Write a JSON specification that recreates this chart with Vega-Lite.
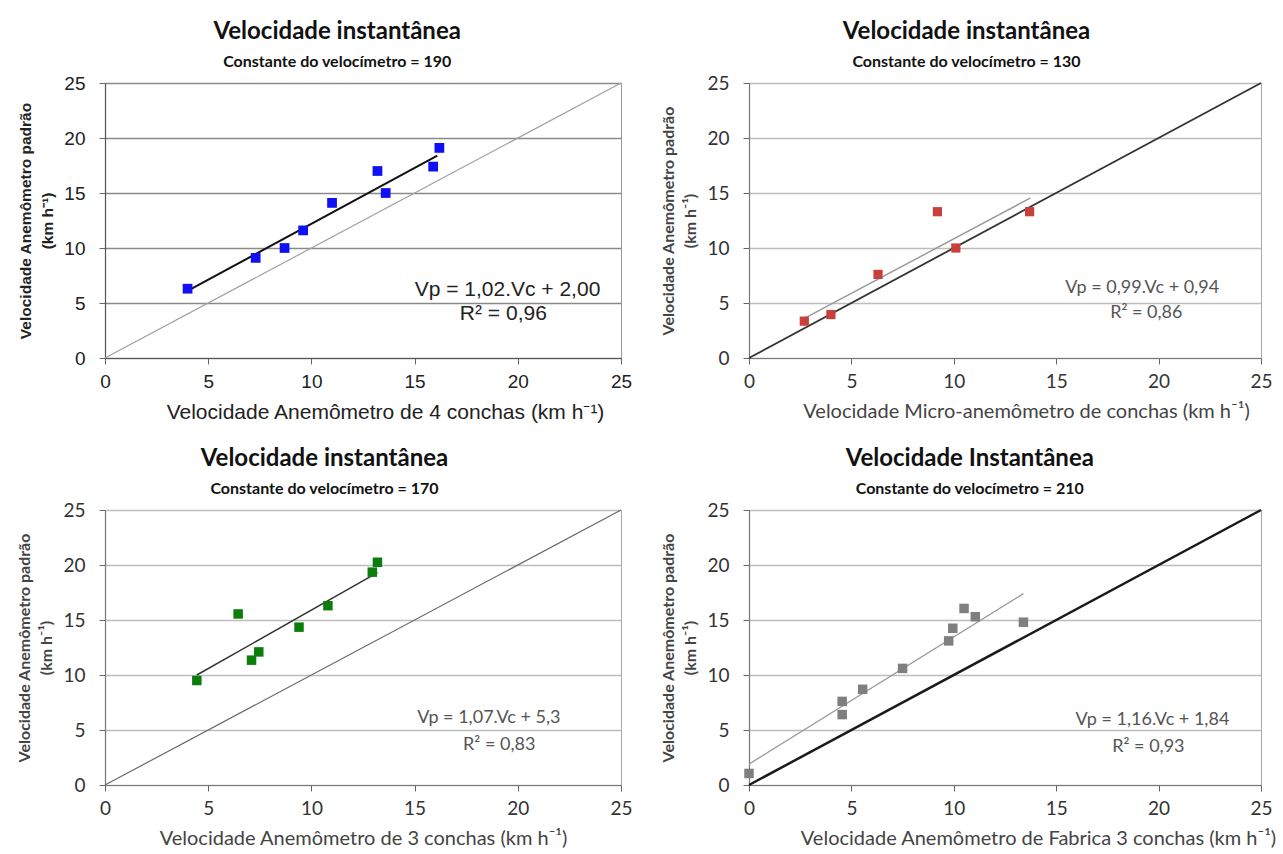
{
  "$schema": "https://vega.github.io/schema/vega-lite/v6.json",
  "background": "white",
  "padding": {"left": 16, "top": 19, "right": 2, "bottom": 0},
  "spacing": 23,
  "datasets": {
    "pts": [
      {"panel": 1, "vc": 4.0, "vp": 6.3}, {"panel": 1, "vc": 7.3, "vp": 9.1}, {"panel": 1, "vc": 8.7, "vp": 10.0},
      {"panel": 1, "vc": 9.6, "vp": 11.6}, {"panel": 1, "vc": 11.0, "vp": 14.1}, {"panel": 1, "vc": 13.2, "vp": 17.0},
      {"panel": 1, "vc": 13.6, "vp": 15.0}, {"panel": 1, "vc": 15.9, "vp": 17.4}, {"panel": 1, "vc": 16.2, "vp": 19.1},
      {"panel": 2, "vc": 2.7, "vp": 3.35}, {"panel": 2, "vc": 4.0, "vp": 3.95}, {"panel": 2, "vc": 6.3, "vp": 7.6},
      {"panel": 2, "vc": 9.2, "vp": 13.3}, {"panel": 2, "vc": 10.1, "vp": 10.0}, {"panel": 2, "vc": 13.7, "vp": 13.3},
      {"panel": 3, "vc": 4.45, "vp": 9.5}, {"panel": 3, "vc": 6.45, "vp": 15.55}, {"panel": 3, "vc": 7.1, "vp": 11.35},
      {"panel": 3, "vc": 7.45, "vp": 12.1}, {"panel": 3, "vc": 9.4, "vp": 14.35}, {"panel": 3, "vc": 10.8, "vp": 16.3},
      {"panel": 3, "vc": 12.95, "vp": 19.35}, {"panel": 3, "vc": 13.2, "vp": 20.25},
      {"panel": 4, "vc": 0.0, "vp": 1.05}, {"panel": 4, "vc": 4.55, "vp": 6.4}, {"panel": 4, "vc": 4.55, "vp": 7.6},
      {"panel": 4, "vc": 5.55, "vp": 8.7}, {"panel": 4, "vc": 7.5, "vp": 10.6}, {"panel": 4, "vc": 9.75, "vp": 13.1},
      {"panel": 4, "vc": 9.95, "vp": 14.25}, {"panel": 4, "vc": 10.5, "vp": 16.05}, {"panel": 4, "vc": 11.05, "vp": 15.3},
      {"panel": 4, "vc": 13.4, "vp": 14.8}
    ],
    "fit": [
      {"panel": 1, "vc": 4.0, "vp": 6.1}, {"panel": 1, "vc": 16.1, "vp": 18.4},
      {"panel": 2, "vc": 2.7, "vp": 3.6}, {"panel": 2, "vc": 13.75, "vp": 14.55},
      {"panel": 3, "vc": 4.45, "vp": 10.0}, {"panel": 3, "vc": 13.2, "vp": 19.3},
      {"panel": 4, "vc": 0.0, "vp": 1.9}, {"panel": 4, "vc": 13.4, "vp": 17.4}
    ],
    "diag": [{"vc": 0, "vp": 0}, {"vc": 25, "vp": 25}]
  },
  "config": {
    "view": {"stroke": "#a8a8a8", "strokeWidth": 1},
    "axis": {"tickColor": "#666", "tickSize": 6, "labelFontSize": 19, "labelColor": "#222", "titleColor": "#222", "gridColor": "#bdbdbd", "gridWidth": 1.5, "domainColor": "#777", "domainWidth": 1.2},
    "axisX": {"grid": false, "labelFlush": false, "labelPadding": 8, "titlePadding": 10, "titleFontWeight": "normal", "titleFontSize": 20},
    "axisY": {"grid": true, "labelPadding": 14, "titleFontWeight": "bold", "titleFontSize": 16, "titlePadding": 8, "titleLineHeight": 22},
    "title": {"fontSize": 24, "font": "Lato", "fontWeight": "bold", "color": "#111", "subtitleFont": "Lato", "subtitleFontWeight": "bold", "subtitleFontSize": 16, "subtitleColor": "#111", "subtitlePadding": 10, "offset": 0, "anchor": "middle", "frame": "bounds"}
  },
  "vconcat": [
    {
      "spacing": 27,
      "hconcat": [
        {
          "width": 516, "height": 275,
          "title": {"text": "Velocidade instantânea", "subtitle": "Constante do velocímetro = 190", "dx": 12},
          "view": {"stroke": "#999"},
          "layer": [
            {
              "encoding": {
                "x": {"field": "vc", "type": "quantitative", "scale": {"domain": [0, 25], "nice": false},
                      "axis": {"values": [0, 5, 10, 15, 20, 25], "title": "Velocidade Anemômetro de 4 conchas (km h⁻¹)", "titleX": 280, "labelFont": "Liberation Sans", "titleFont": "Liberation Sans", "titleFontSize": 21, "domainColor": "#555"}},
                "y": {"field": "vp", "type": "quantitative", "scale": {"domain": [0, 25], "nice": false},
                      "axis": {"values": [0, 5, 10, 15, 20, 25], "title": ["Velocidade Anemômetro padrão", "(km h⁻¹)"], "labelFont": "Liberation Sans", "titleFont": "Liberation Sans", "titleFontSize": 15.5, "gridColor": "#8a8a8a", "domainColor": "#555"}}
              },
              "layer": [
                {"data": {"name": "diag"}, "mark": {"type": "line", "color": "#a0a0a0", "strokeWidth": 1.2}},
                {"data": {"name": "fit"}, "transform": [{"filter": "datum.panel == 1"}], "mark": {"type": "line", "color": "#111", "strokeWidth": 2}},
                {"data": {"name": "pts"}, "transform": [{"filter": "datum.panel == 1"}], "mark": {"type": "point", "shape": "square", "filled": true, "size": 95, "color": "#1010f5", "opacity": 1}}
              ]
            },
            {"data": {"values": [{"label": "Vp = 1,02.Vc + 2,00"}]}, "mark": {"type": "text", "font": "Liberation Sans", "fontSize": 21, "color": "#222"},
             "encoding": {"x": {"datum": 19.5}, "y": {"datum": 6.2}, "text": {"field": "label"}}},
            {"data": {"values": [{"label": "R² = 0,96"}]}, "mark": {"type": "text", "font": "Liberation Sans", "fontSize": 21, "color": "#222"},
             "encoding": {"x": {"datum": 19.3}, "y": {"datum": 4.0}, "text": {"field": "label"}}}
          ]
        },
        {
          "width": 512, "height": 275,
          "title": {"text": "Velocidade instantânea", "subtitle": "Constante do velocímetro = 130"},
          "layer": [
            {
              "encoding": {
                "x": {"field": "vc", "type": "quantitative", "scale": {"domain": [0, 25], "nice": false},
                      "axis": {"values": [0, 5, 10, 15, 20, 25], "title": "Velocidade Micro-anemômetro de  conchas (km h⁻¹)", "titleX": 277, "labelFont": "Lato", "titleFont": "Lato", "titleColor": "#444", "labelColor": "#333"}},
                "y": {"field": "vp", "type": "quantitative", "scale": {"domain": [0, 25], "nice": false},
                      "axis": {"values": [0, 5, 10, 15, 20, 25], "title": ["Velocidade Anemômetro padrão", "(km h⁻¹)"], "labelFont": "Lato", "titleFont": "Lato", "titleColor": "#444", "labelColor": "#333"}}
              },
              "layer": [
                {"data": {"name": "diag"}, "mark": {"type": "line", "color": "#333", "strokeWidth": 1.8}},
                {"data": {"name": "fit"}, "transform": [{"filter": "datum.panel == 2"}], "mark": {"type": "line", "color": "#9a9a9a", "strokeWidth": 1.5}},
                {"data": {"name": "pts"}, "transform": [{"filter": "datum.panel == 2"}], "mark": {"type": "point", "shape": "square", "filled": true, "size": 85, "color": "#c8403c", "opacity": 1}}
              ]
            },
            {"data": {"values": [{"label": "Vp = 0,99.Vc + 0,94"}]}, "mark": {"type": "text", "font": "Lato", "fontSize": 18, "color": "#555"},
             "encoding": {"x": {"datum": 19.2}, "y": {"datum": 6.4}, "text": {"field": "label"}}},
            {"data": {"values": [{"label": "R² = 0,86"}]}, "mark": {"type": "text", "font": "Lato", "fontSize": 18, "color": "#555"},
             "encoding": {"x": {"datum": 19.4}, "y": {"datum": 4.1}, "text": {"field": "label"}}}
          ]
        }
      ]
    },
    {
      "spacing": 27,
      "hconcat": [
        {
          "width": 516, "height": 275,
          "title": {"text": "Velocidade instantânea", "subtitle": "Constante do velocímetro = 170"},
          "layer": [
            {
              "encoding": {
                "x": {"field": "vc", "type": "quantitative", "scale": {"domain": [0, 25], "nice": false},
                      "axis": {"values": [0, 5, 10, 15, 20, 25], "title": "Velocidade Anemômetro de 3 conchas (km h⁻¹)", "labelFont": "Lato", "titleFont": "Lato", "titleColor": "#444", "labelColor": "#333"}},
                "y": {"field": "vp", "type": "quantitative", "scale": {"domain": [0, 25], "nice": false},
                      "axis": {"values": [0, 5, 10, 15, 20, 25], "title": ["Velocidade Anemômetro padrão", "(km h⁻¹)"], "labelFont": "Lato", "titleFont": "Lato", "titleColor": "#444", "labelColor": "#333"}}
              },
              "layer": [
                {"data": {"name": "diag"}, "mark": {"type": "line", "color": "#6a6a6a", "strokeWidth": 1.2}},
                {"data": {"name": "fit"}, "transform": [{"filter": "datum.panel == 3"}], "mark": {"type": "line", "color": "#333", "strokeWidth": 1.5}},
                {"data": {"name": "pts"}, "transform": [{"filter": "datum.panel == 3"}], "mark": {"type": "point", "shape": "square", "filled": true, "size": 90, "color": "#0a7d0a", "opacity": 1}}
              ]
            },
            {"data": {"values": [{"label": "Vp = 1,07.Vc + 5,3"}]}, "mark": {"type": "text", "font": "Lato", "fontSize": 18, "color": "#555"},
             "encoding": {"x": {"datum": 18.6}, "y": {"datum": 6.1}, "text": {"field": "label"}}},
            {"data": {"values": [{"label": "R² = 0,83"}]}, "mark": {"type": "text", "font": "Lato", "fontSize": 18, "color": "#555"},
             "encoding": {"x": {"datum": 19.1}, "y": {"datum": 3.6}, "text": {"field": "label"}}}
          ]
        },
        {
          "width": 512, "height": 275,
          "title": {"text": "Velocidade Instantânea", "subtitle": "Constante do velocímetro = 210"},
          "layer": [
            {
              "encoding": {
                "x": {"field": "vc", "type": "quantitative", "scale": {"domain": [0, 25], "nice": false},
                      "axis": {"values": [0, 5, 10, 15, 20, 25], "title": "Velocidade Anemômetro de Fabrica  3 conchas (km h⁻¹)", "titleX": 289, "labelFont": "Lato", "titleFont": "Lato", "titleColor": "#444", "labelColor": "#333"}},
                "y": {"field": "vp", "type": "quantitative", "scale": {"domain": [0, 25], "nice": false},
                      "axis": {"values": [0, 5, 10, 15, 20, 25], "title": ["Velocidade Anemômetro padrão", "(km h⁻¹)"], "labelFont": "Lato", "titleFont": "Lato", "titleColor": "#444", "labelColor": "#333"}}
              },
              "layer": [
                {"data": {"name": "diag"}, "mark": {"type": "line", "color": "#1a1a1a", "strokeWidth": 2.5}},
                {"data": {"name": "fit"}, "transform": [{"filter": "datum.panel == 4"}], "mark": {"type": "line", "color": "#9a9a9a", "strokeWidth": 1.4}},
                {"data": {"name": "pts"}, "transform": [{"filter": "datum.panel == 4"}], "mark": {"type": "point", "shape": "square", "filled": true, "size": 90, "color": "#7f7f7f", "opacity": 1}}
              ]
            },
            {"data": {"values": [{"label": "Vp = 1,16.Vc + 1,84"}]}, "mark": {"type": "text", "font": "Lato", "fontSize": 18, "color": "#555"},
             "encoding": {"x": {"datum": 19.7}, "y": {"datum": 5.9}, "text": {"field": "label"}}},
            {"data": {"values": [{"label": "R² = 0,93"}]}, "mark": {"type": "text", "font": "Lato", "fontSize": 18, "color": "#555"},
             "encoding": {"x": {"datum": 19.5}, "y": {"datum": 3.5}, "text": {"field": "label"}}}
          ]
        }
      ]
    }
  ]
}
